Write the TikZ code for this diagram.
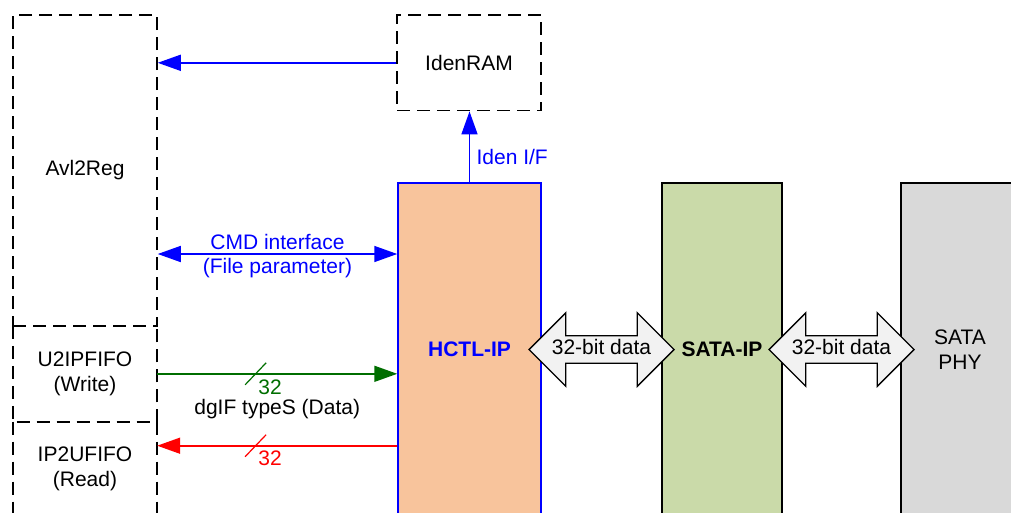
\documentclass[tikz,border=0pt]{standalone}
\usepackage{fontspec}
\setmainfont{Liberation Sans}
\usetikzlibrary{arrows.meta,shapes.arrows,calc}
\definecolor{hctl-peach}{HTML}{F8C49C}
\definecolor{sata-green}{HTML}{CADAA9}
\definecolor{phy-grey}{HTML}{D9D9D9}
\definecolor{link-grey}{HTML}{F2F2F2}
\definecolor{data-green}{HTML}{006E00}

\tikzset{
  dashline/.style={dash pattern=on 13pt off 7pt, line width=1.5pt},
  dashbox/.style={draw, dashline, minimum width=144pt, inner sep=0pt, align=center},
  fifobox/.style={minimum width=144pt, inner sep=0pt, align=center},
  corebox/.style={draw, line width=1.5pt, inner sep=0pt, align=center},
  sig/.style={line width=1.6pt, -{Triangle[length=23pt,width=16pt]}},
  bothsig/.style={line width=1.6pt, {Triangle[length=23pt,width=16pt]}-{Triangle[length=23pt,width=16pt]}},
  link/.style={double arrow, draw, fill=link-grey, line width=1.4pt, double arrow head extend=23pt, minimum height=145pt, text height=14.5pt, text depth=4pt, inner xsep=2pt, inner ysep=3.8pt}
}

\begin{document}
\begin{tikzpicture}[x=1pt, y=-1pt, font=\fontsize{21}{24.5}\selectfont]

    \useasboundingbox (0,0) rectangle (1011,512);
    \clip (0,0) rectangle (1011,512);

    % User side
    \node[dashbox, minimum height=311pt] (avl) at (85,170.5) {Avl2Reg};
    \node[fifobox, minimum height=95.7pt] (fifow) at (85,373.8) {U2IPFIFO\\(Write)};
    \node[fifobox, minimum height=94.6pt] (fifor) at (85,469) {IP2UFIFO\\(Read)};
    \draw[dashline] (fifow.north west) -- (fifow.south west) -- (fifow.south east) -- (fifow.north east);
    \draw[dashline] (fifor.north west) -- (fifor.south west);
    \draw[dashline] (fifor.north east) -- (fifor.south east);
    \node[dashbox, minimum height=95.7pt] (iden) at (469,62.8) {IdenRAM};

    % IP cores
    \node[corebox, draw=blue, fill=hctl-peach, minimum width=143pt, minimum height=333pt, text=blue, font=\fontsize{21}{24.5}\selectfont\bfseries] (hctl) at (469.5,349.5) {HCTL-IP};
    \node[corebox, fill=sata-green, minimum width=120pt, minimum height=333pt, font=\fontsize{21}{24.5}\selectfont\bfseries] (sata) at (722,349.5) {SATA-IP};
    \node[corebox, fill=phy-grey, minimum width=118pt, minimum height=333pt] (phy) at (960,349.5) {SATA\\PHY};

    % 32-bit links
    \node[link] (link1) at ($(hctl.east)!0.5!(sata.west)$) {32-bit data};
    \node[link] (link2) at ($(sata.east)!0.5!(phy.west)$) {32-bit data};

    % Identify and command
    \draw[sig, blue] (iden.west) -- (avl.east |- iden.west);
    \draw[sig, blue] (hctl.north) -- (hctl.north |- iden.south) node[pos=0.35, right=3pt] {Iden I/F};
    \coordinate (cmd) at (0,254);
    \draw[bothsig, blue] (avl.east |- cmd) -- (hctl.west |- cmd) node[midway, above] {CMD interface} node[midway, below] {(File parameter)};

    % Write data
    \draw[sig, data-green] (fifow.east) -- (hctl.west |- fifow.east) coordinate[pos=0.41] (wbus);
    \draw[data-green, line width=1.2pt] ($(wbus)+(-10.5,11)$) -- ($(wbus)+(10.5,-11)$);
    \node[text=data-green, inner sep=0pt] (wwidth) at ($(wbus)+(14.5,13)$) {32};
    \path (fifow.east) -- (hctl.west |- fifow.east) node[midway, yshift=-35pt] (dgif) {dgIF typeS (Data)};

    % Read data
    \coordinate (rd) at (0,445.7);
    \draw[sig, red] (hctl.west |- rd) -- (fifor.east |- rd) coordinate[pos=0.59] (rbus);
    \draw[red, line width=1.2pt] ($(rbus)+(-10.5,11)$) -- ($(rbus)+(10.5,-11)$);
    \node[text=red, inner sep=0pt] (rwidth) at ($(rbus)+(14.5,13)$) {32};

\end{tikzpicture}
\end{document}
